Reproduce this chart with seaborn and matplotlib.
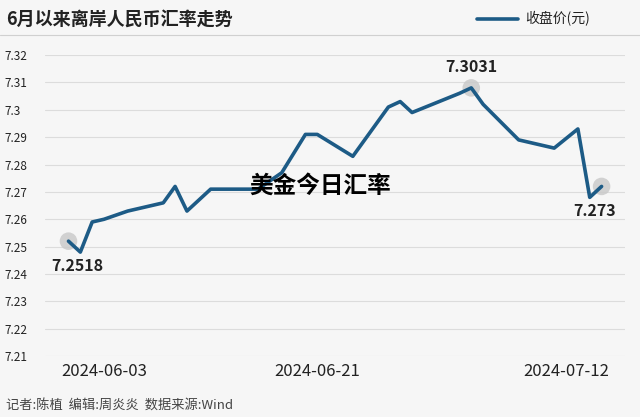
import pandas as pd
import matplotlib
matplotlib.use('Agg')
import matplotlib.pyplot as plt
import seaborn as sns

dates = ["2024-05-31", "2024-06-01", "2024-06-02", "2024-06-03", "2024-06-05", "2024-06-07",
         "2024-06-08", "2024-06-09", "2024-06-10", "2024-06-12", "2024-06-13", "2024-06-16",
         "2024-06-18", "2024-06-20", "2024-06-21", "2024-06-24", "2024-06-25", "2024-06-27",
         "2024-06-28", "2024-06-29", "2024-07-03", "2024-07-04", "2024-07-05", "2024-07-08",
         "2024-07-11", "2024-07-13", "2024-07-14", "2024-07-15"]
close = [7.252, 7.248, 7.259, 7.260, 7.263, 7.265, 7.266, 7.272, 7.263, 7.271, 7.271, 7.271,
         7.277, 7.291, 7.291, 7.283, 7.289, 7.301, 7.303, 7.299, 7.306, 7.308, 7.302, 7.289,
         7.286, 7.293, 7.268, 7.272]
label_idx = [0, 21, 27]
label_txt = ["7.2518", "7.3031", "7.273"]
tick_dates = ["2024-06-03", "2024-06-21", "2024-07-12"]
yticks = [7.21, 7.22, 7.23, 7.24, 7.25, 7.26, 7.27, 7.28, 7.29, 7.30, 7.31, 7.32]

df = pd.DataFrame({"date": pd.to_datetime(dates), "close": close})

sns.set_theme(style="white")
plt.rcParams['font.family'] = ['Noto Sans CJK SC', 'DejaVu Sans']
bg = "#f6f6f6"
line_c = "#1d5b86"

fig = plt.figure(figsize=(6.4, 4.17), dpi=100, facecolor=bg)
ax = fig.add_axes([0.07, 0.146, 0.907, 0.722], facecolor=bg)

sns.lineplot(data=df, x="date", y="close", ax=ax, color=line_c, linewidth=2.6)
for i in label_idx:
    ax.scatter(df["date"][i], df["close"][i], s=160, color="#c8c8c8", alpha=0.8, zorder=1, edgecolor="none")
offs = [(6, -18), (0, 15), (-5, -18)]
for i, t, o in zip(label_idx, label_txt, offs):
    ax.annotate(t, (df["date"][i], df["close"][i]), xytext=o, textcoords="offset points",
                ha="center", va="center", fontsize=11.5, color="#222222", fontweight="bold")

ax.set_ylim(7.21, 7.32)
ax.set_yticks(yticks)
ax.set_yticklabels([f"{v:g}" for v in yticks], fontsize=8.5, color="#222222")
ax.set_xlim(pd.Timestamp("2024-05-29"), pd.Timestamp("2024-07-17"))
ax.set_xticks(pd.to_datetime(tick_dates))
ax.set_xticklabels(tick_dates, fontsize=12, color="#222222", fontweight="medium")
ax.grid(axis="y", color="#dcdcdc", linewidth=0.8)
ax.tick_params(axis="both", length=0, pad=5)
for s in ax.spines.values():
    s.set_visible(False)
ax.set_xlabel("")
ax.set_ylabel("")
for lab in ax.get_yticklabels():
    lab.set_horizontalalignment("left")
    lab.set_x(-0.058)

fig.text(0.01, 0.955, "6月以来离岸人民币汇率走势", fontsize=13, fontweight="bold", color="#222222", va="center")
fig.add_artist(plt.Line2D([0.745, 0.81], [0.955, 0.955], color=line_c, linewidth=2.6))
fig.text(0.82, 0.955, "收盘价(元)", fontsize=10, color="#222222", va="center")
fig.add_artist(plt.Line2D([0, 1], [0.915, 0.915], color="#d0d0d0", linewidth=0.8))
fig.text(0.50, 0.555, "美金今日汇率", fontsize=17, fontweight="bold", color="black", ha="center", va="center")
fig.text(0.01, 0.025, "记者:陈植  编辑:周炎炎  数据来源:Wind", fontsize=9.5, color="#444444", va="center")

fig.savefig("out.png", dpi=100, facecolor=bg)
